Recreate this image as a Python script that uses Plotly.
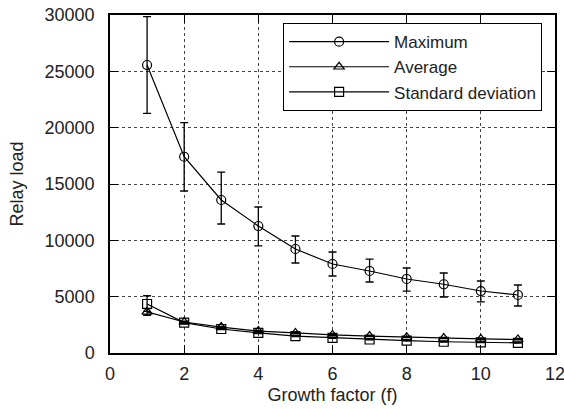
import plotly.graph_objects as go

growth = [1, 2, 3, 4, 5, 6, 7, 8, 9, 10, 11]

max_vals = [25560, 17420, 13580, 11270, 9230, 7900, 7280, 6570, 6100, 5500, 5150]
max_upper = [29850, 20440, 16050, 12960, 10385, 8965, 8340, 7545, 7100, 6390, 6035]
max_lower = [21275, 14380, 11450, 9500, 7990, 6835, 6300, 5500, 4970, 4530, 4170]

avg_vals = [3650, 2750, 2300, 1950, 1780, 1600, 1500, 1400, 1330, 1250, 1200]
avg_err = [300, 80, 60, 50, 40, 40, 30, 30, 30, 30, 30]

std_vals = [4350, 2700, 2130, 1780, 1500, 1350, 1200, 1100, 1000, 950, 900]
std_upper = [5080, 2780, 2190, 1830, 1540, 1390, 1240, 1130, 1030, 980, 930]
std_lower = [3700, 2620, 2070, 1730, 1460, 1310, 1160, 1070, 970, 920, 870]

x_ticks = [0, 2, 4, 6, 8, 10, 12]
y_ticks = [0, 5000, 10000, 15000, 20000, 25000, 30000]
y_tick_labels = ["0", "5000", "10000", "15000", "20000", "25000", "30000"]

FONT = "Liberation Sans, Arial, sans-serif"
TXT = "#222"

fig = go.Figure()

def add_series(name, y, up, lo, symbol):
    fig.add_trace(go.Scatter(
        x=growth, y=y, name=name, mode="lines+markers",
        line=dict(color="black", width=1.2),
        marker=dict(symbol=symbol, size=9, color="black",
                    line=dict(color="black", width=1.2)),
        error_y=dict(type="data", symmetric=False,
                     array=[u - v for u, v in zip(up, y)],
                     arrayminus=[v - l for v, l in zip(y, lo)],
                     color="black", thickness=1.3, width=4),
    ))

add_series("Maximum", max_vals, max_upper, max_lower, "circle-open")
add_series("Average", avg_vals, [v + e for v, e in zip(avg_vals, avg_err)],
           [v - e for v, e in zip(avg_vals, avg_err)], "triangle-up-open")
add_series("Standard deviation", std_vals, std_upper, std_lower, "square-open")

axis_common = dict(
    showline=True, linecolor="black", linewidth=1.5, mirror="ticks",
    ticks="inside", ticklen=8, tickcolor="black", tickwidth=1,
    showgrid=True, gridcolor="#444", griddash="dot", gridwidth=1,
    zeroline=False, automargin=False, ticklabeloverflow="allow",
    tickfont=dict(family=FONT, size=18, color=TXT),
)

fig.update_xaxes(range=[0, 12], tickvals=x_ticks, ticklabelstandoff=4,
                 title=dict(text="Growth factor (f)", font=dict(family=FONT, size=18, color=TXT), standoff=5),
                 **axis_common)
fig.update_yaxes(range=[0, 30000], tickvals=y_ticks, ticktext=y_tick_labels,
                 ticklabelstandoff=10,
                 title=dict(text="Relay load", font=dict(family=FONT, size=18, color=TXT), standoff=16),
                 **axis_common)

fig.update_layout(
    width=564, height=409,
    margin=dict(l=110, r=9, t=15, b=56),
    plot_bgcolor="white", paper_bgcolor="white",
    font=dict(family=FONT, size=18, color=TXT),
    legend=dict(x=0.971, y=0.976, xanchor="right", yanchor="top",
                bordercolor="black", borderwidth=1, bgcolor="white",
                font=dict(family=FONT, size=17, color=TXT),
                itemwidth=100, tracegroupgap=0),
    showlegend=True,
)

fig.write_html("out.html", config={"displayModeBar": False},
               post_script="document.body.style.margin='0';document.body.style.overflow='hidden';")
